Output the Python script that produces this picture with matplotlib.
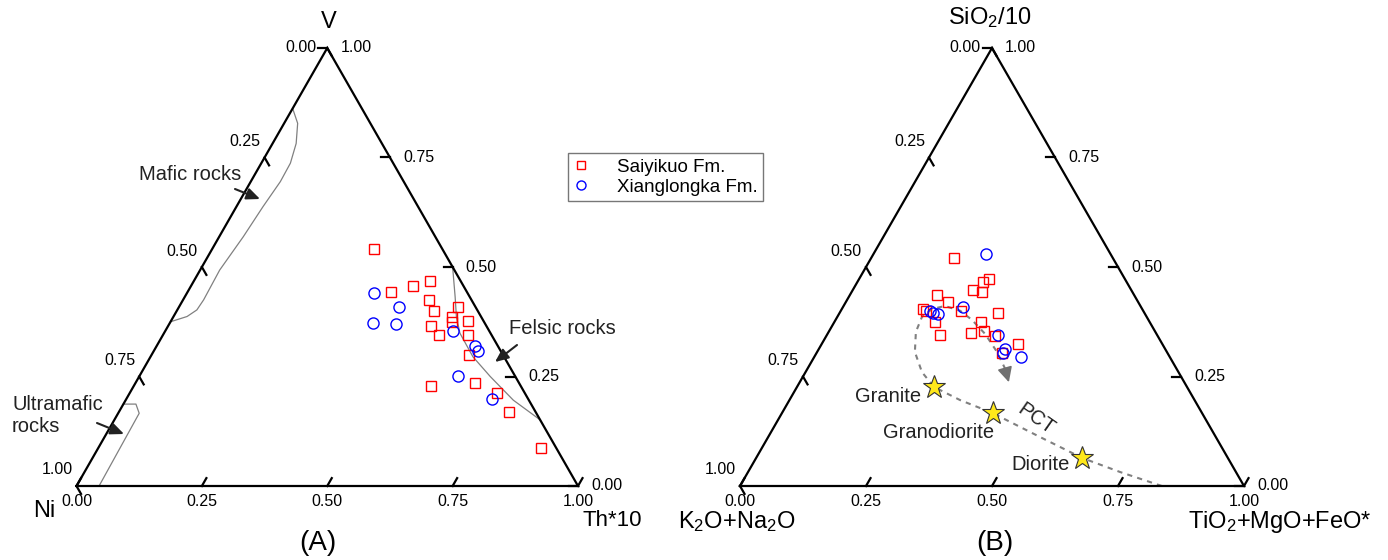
import numpy as np
import matplotlib

matplotlib.use("Agg")
import matplotlib.pyplot as plt
from matplotlib.lines import Line2D

plt.rcParams["font.family"] = ["Liberation Sans", "DejaVu Sans"]
plt.rcParams["mathtext.fontset"] = "custom"
plt.rcParams["mathtext.rm"] = "Liberation Sans"
plt.rcParams["mathtext.it"] = "Liberation Sans:italic"

# ---- (A) Ni - V - Th*10 : fractions of Th*10 (bottom axis) and V (apex)
sai_th = [0.323, 0.470, 0.443, 0.406, 0.490, 0.513, 0.557, 0.557, 0.562, 0.592,
          0.524, 0.551, 0.608, 0.633, 0.592, 0.677, 0.732, 0.778, 0.883]
sai_v = [0.540, 0.469, 0.457, 0.444, 0.425, 0.400, 0.408, 0.385, 0.375, 0.377,
         0.366, 0.344, 0.344, 0.300, 0.228, 0.236, 0.212, 0.168, 0.086]
xl_th = [0.372, 0.439, 0.404, 0.452, 0.573, 0.635, 0.647, 0.635, 0.730]
xl_v = [0.441, 0.408, 0.373, 0.369, 0.355, 0.320, 0.309, 0.252, 0.198]

mafic_th = [0.0, 0.027, 0.047, 0.058, 0.059, 0.053, 0.048, 0.039, 0.041, 0.039, 0.027, 0.0]
mafic_v = [0.862, 0.828, 0.782, 0.737, 0.695, 0.638, 0.569, 0.493, 0.425, 0.402, 0.387, 0.375]
ultra_th = [0.0, 0.025, 0.042, 0.045]
ultra_v = [0.187, 0.187, 0.166, 0.0]
felsic_th = [0.500, 0.539, 0.564, 0.590, 0.643, 0.700, 0.773, 0.849]
felsic_v = [0.500, 0.432, 0.387, 0.349, 0.295, 0.250, 0.196, 0.151]

# ---- (B) K2O+Na2O - SiO2/10 - TiO2+MgO+FeO* : fractions of TiO2+MgO+FeO* (bottom) and SiO2/10 (apex)
sai_f = [0.165, 0.259, 0.249, 0.238, 0.259, 0.172, 0.202, 0.162, 0.170, 0.238,
         0.314, 0.199, 0.291, 0.283, 0.307, 0.225, 0.334, 0.389, 0.368]
sai_s = [0.520, 0.472, 0.465, 0.447, 0.442, 0.436, 0.420, 0.403, 0.400, 0.400,
         0.394, 0.374, 0.374, 0.350, 0.355, 0.344, 0.342, 0.324, 0.303]
xl_f = [0.223, 0.237, 0.177, 0.184, 0.197, 0.339, 0.370, 0.370, 0.411]
xl_s = [0.529, 0.409, 0.400, 0.396, 0.392, 0.344, 0.313, 0.303, 0.295]

rock_names = ["Granite", "Granodiorite", "Diorite"]
rock_f = [0.272, 0.418, 0.648]
rock_s = [0.226, 0.167, 0.063]

pct_f = [0.837, 0.738, 0.647, 0.539, 0.417, 0.339, 0.272, 0.231, 0.194, 0.173,
         0.168, 0.179, 0.201, 0.237, 0.271, 0.313, 0.357, 0.391, 0.415]
pct_s = [0.0, 0.032, 0.064, 0.112, 0.167, 0.196, 0.226, 0.260, 0.306, 0.352,
         0.386, 0.404, 0.411, 0.400, 0.379, 0.347, 0.306, 0.269, 0.237]

tick_vals = [0.0, 0.25, 0.5, 0.75, 1.0]

W, HF = 1388, 560
H = np.sqrt(3) / 2


def cart(b, t):
    """bottom-axis fraction b, apex fraction t -> cartesian in unit triangle."""
    b = np.asarray(b, dtype=float)
    t = np.asarray(t, dtype=float)
    return b + 0.5 * t, H * t


def fpx(x, y):
    # image pixel (top-left origin) -> figure pixels
    return (x, HF - y)


def panel(fig, x0, width, base=486, height=438):
    ax = fig.add_axes([0, 0, 1, 1])
    ax.set_xlim(-x0 / width, (W - x0) / width)
    ax.set_ylim((base - HF) / height * H, base / height * H)
    ax.axis("off")
    ax.patch.set_alpha(0)
    return ax


def frame(ax):
    xs, ys = cart([0, 1, 0, 0], [0, 0, 1, 0])
    ax.plot(xs, ys, color="black", lw=1.6, solid_joinstyle="miter", clip_on=False, zorder=3)
    L = 0.018
    kw = dict(color="black", lw=1.6, clip_on=False, zorder=3)
    for t in tick_vals:
        lab = "%.2f" % t
        # bottom axis
        x, y = cart(t, 0)
        ax.plot([x, x + 0.5 * L], [y, y + H * L], **kw)
        ax.annotate(lab, (x, y), xytext=(0, -15), textcoords="offset pixels",
                    ha="center", va="center", fontsize=11.5)
        # left edge (bottom-left component)
        x, y = cart(0, 1 - t)
        ax.plot([x, x + 0.5 * L], [y, y - H * L], **kw)
        off = (-11, 0) if t == 0 else (-4, 16)
        ax.annotate(lab, (x, y), xytext=off, textcoords="offset pixels",
                    ha="right", va="center", fontsize=11.5)
        # right edge (apex component)
        x, y = cart(1 - t, t)
        ax.plot([x, x - L], [y, y], **kw)
        ax.annotate(lab, (x, y), xytext=(13, 0), textcoords="offset pixels",
                    ha="left", va="center", fontsize=11.5)


def text(fig, x, y, s, **kw):
    kw.setdefault("fontsize", 14.5)
    kw.setdefault("color", "#222222")
    fig.text(x / W, 1 - y / HF, s, ha=kw.pop("ha", "center"), va=kw.pop("va", "center"), **kw)


def arrow(ax, tail, head):
    ax.annotate("", xy=fpx(*head), xycoords="figure pixels",
                xytext=fpx(*tail), textcoords="figure pixels",
                arrowprops=dict(arrowstyle="-|>,head_length=0.8,head_width=0.35",
                                color="#222222", lw=1.5, shrinkA=0, shrinkB=0))


sq_kw = dict(ls="none", marker="s", ms=7.5, mfc="none", mec="red", mew=1.0, zorder=5, clip_on=False)
ci_kw = dict(ls="none", marker="o", ms=8.0, mfc="none", mec="blue", mew=1.0, zorder=5, clip_on=False)
field_kw = dict(color="#808080", lw=0.9, zorder=2, clip_on=False)

fig = plt.figure(figsize=(W / 100, HF / 100), dpi=100)

# ---------------- (A)
axA = panel(fig, 76.5, 501.5)
frame(axA)
axA.plot(*cart(mafic_th, mafic_v), **field_kw)
axA.plot(*cart(ultra_th, ultra_v), **field_kw)
axA.plot(*cart(felsic_th, felsic_v), **field_kw)
axA.plot(*cart(sai_th, sai_v), **sq_kw)
axA.plot(*cart(xl_th, xl_v), **ci_kw)

text(fig, 190, 175, "Mafic rocks")
arrow(axA, (235, 189), (260, 199))
text(fig, 12, 405, "Ultramafic", ha="left")
text(fig, 12, 427, "rocks", ha="left")
arrow(axA, (97, 423), (124, 434))
text(fig, 562, 329, "Felsic rocks")
arrow(axA, (517, 345), (495, 362))

text(fig, 329, 22, "V", fontsize=17, color="black")
text(fig, 44, 511, "Ni", fontsize=17, color="black")
text(fig, 612, 521, "Th*10", fontsize=16, color="black")
text(fig, 318, 543, "(A)", fontsize=20, color="black")

# ---------------- (B)
axB = panel(fig, 740, 504)
frame(axB)
px, py = cart(pct_f, pct_s)
axB.plot(px[:-1], py[:-1], color="#808080", lw=1.5, ls=(0, (2.5, 2.5)), zorder=2)
axB.annotate("", xy=(px[-1], py[-1]), xytext=(px[-2], py[-2]),
             arrowprops=dict(arrowstyle="-|>,head_length=0.9,head_width=0.45",
                             color="#707070", lw=1.2, shrinkA=0, shrinkB=0))
axB.plot(*cart(sai_f, sai_s), **sq_kw)
axB.plot(*cart(xl_f, xl_s), **ci_kw)
axB.plot(*cart(rock_f, rock_s), ls="none", marker="*", ms=17, mfc="#ffe81a",
         mec="#333333", mew=0.8, zorder=6)

text(fig, 888, 397, rock_names[0])
text(fig, 939, 433, rock_names[1])
text(fig, 1041, 465, rock_names[2])
text(fig, 1036, 419, "PCT", rotation=-35)

text(fig, 990, 18, r"SiO$_2$/10", fontsize=17, color="black")
text(fig, 737, 522, r"K$_2$O+Na$_2$O", fontsize=17, color="black")
text(fig, 1280, 522, r"TiO$_2$+MgO+FeO*", fontsize=17, color="black")
text(fig, 995, 543, "(B)", fontsize=20, color="black")

# ---------------- legend
handles = [
    Line2D([], [], ls="none", marker="s", ms=6, mfc="none", mec="red", mew=1.0),
    Line2D([], [], ls="none", marker="o", ms=6.5, mfc="none", mec="blue", mew=1.0),
]
leg = fig.legend(handles, ["Saiyikuo Fm.", "Xianglongka Fm."], loc="upper left",
                 bbox_to_anchor=(568 / W, 1 - 153 / HF), fontsize=13.5,
                 frameon=True, fancybox=False, edgecolor="#555555",
                 handlelength=0.8, handletextpad=1.5, borderpad=0.3,
                 labelspacing=0.15, borderaxespad=0)
leg.get_frame().set_linewidth(1.0)

fig.savefig("out.png", dpi=100)
